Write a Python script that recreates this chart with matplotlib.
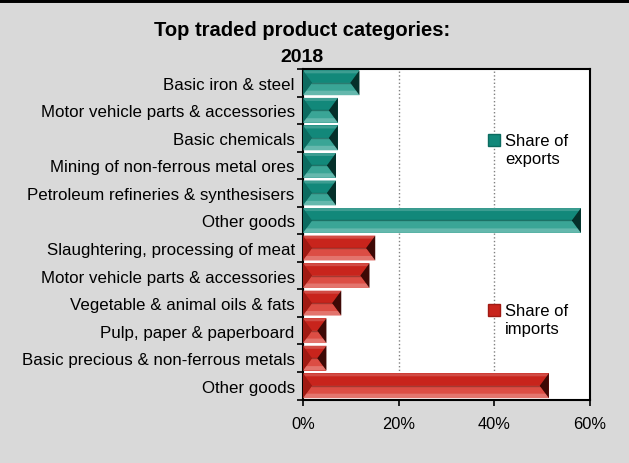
import numpy as np
import matplotlib.pyplot as plt
from matplotlib.patches import Polygon
from matplotlib.lines import Line2D

plt.rcParams['font.family'] = ['Liberation Sans', 'DejaVu Sans']

export_labels = ['Basic iron & steel', 'Motor vehicle parts & accessories', 'Basic chemicals',
                 'Mining of non-ferrous metal ores', 'Petroleum refineries & synthesisers',
                 'Other goods']
export_share = [11.8, 7.3, 7.3, 6.9, 6.9, 58.1]

import_labels = ['Slaughtering, processing of meat', 'Motor vehicle parts & accessories',
                 'Vegetable & animal oils & fats', 'Pulp, paper & paperboard',
                 'Basic precious & non-ferrous metals', 'Other goods']
import_share = [15.1, 13.9, 8.0, 4.9, 4.9, 51.4]

x_ticks = [0, 20, 40, 60]

# facet colours: top, bottom, left, right
teal = ['#12887a', '#3aa596', '#0c6b60', '#05302a']
red = ['#c8241c', '#dc4d44', '#a01a13', '#3e0906']


def bevel(ax, bars, cols, d=1.9):
    for b in bars:
        x0, y0 = b.get_x(), b.get_y()
        w, h = b.get_width(), b.get_height()
        x1, y1 = x0 + w, y0 + h
        ym = y0 + h / 2
        dd = min(d, w / 2)
        facets = [
            [(x0, y0), (x1, y0), (x1 - dd, ym), (x0 + dd, ym)],
            [(x0, y1), (x1, y1), (x1 - dd, ym), (x0 + dd, ym)],
            [(x0, y0), (x0 + dd, ym), (x0, y1)],
            [(x1, y0), (x1 - dd, ym), (x1, y1)],
        ]
        for pts, c in zip(facets, cols):
            ax.add_patch(Polygon(pts, closed=True, facecolor=c, edgecolor='none', zorder=3))
        # highlight strips
        ax.add_patch(Polygon([(x0, y0), (x1, y0), (x1 - dd * 0.25, y0 + h * 0.12),
                              (x0 + dd * 0.25, y0 + h * 0.12)],
                             facecolor='white', alpha=0.18, edgecolor='none', zorder=4))
        ax.add_patch(Polygon([(x0, y1), (x1, y1), (x1 - dd * 0.35, y1 - h * 0.18),
                              (x0 + dd * 0.35, y1 - h * 0.18)],
                             facecolor='white', alpha=0.22, edgecolor='none', zorder=4))
        ax.plot([x0 + dd, x1 - dd], [ym, ym], color='black', alpha=0.25, lw=1, zorder=4)


fig = plt.figure(figsize=(6.29, 4.64), dpi=100)
fig.patch.set_facecolor('#d9d9d9')
ax = fig.add_axes([303 / 629, 63.5 / 464, 287 / 629, 330.5 / 464])

labels = export_labels + import_labels
n = len(labels)
ypos = np.arange(n)
ex_bars = ax.barh(ypos[:6], export_share, height=0.9, color=teal[0], zorder=2)
im_bars = ax.barh(ypos[6:], import_share, height=0.9, color=red[0], zorder=2)
bevel(ax, ex_bars, teal)
bevel(ax, im_bars, red)

ax.set_xlim(0, 60)
ax.set_ylim(n - 0.5, -0.5)
ax.set_xticks(x_ticks)
ax.set_xticklabels([f'{t}%' for t in x_ticks])
ax.set_yticks(np.arange(n + 1) - 0.5)
ax.set_yticklabels([])
ax.set_yticks(ypos, minor=True)
ax.set_yticklabels(labels, minor=True)
ax.tick_params(axis='y', which='minor', length=0, pad=6, labelsize=12.2)
ax.tick_params(axis='y', which='major', length=4, width=1.2, direction='out')
ax.tick_params(axis='x', length=4, width=1.2, direction='out', pad=8, labelsize=11.8)
for s in ax.spines.values():
    s.set_linewidth(1.5)
ax.xaxis.grid(True, linestyle=':', color='#808080', linewidth=1)
ax.set_axisbelow(True)

# legend entries
for ylab, cols, txt in [(0.785, teal, 'Share of\nexports'), (0.27, red, 'Share of\nimports')]:
    ax.plot([0.665], [ylab], marker='s', markersize=8, color=cols[0], markeredgecolor=cols[2],
            transform=ax.transAxes, clip_on=False, zorder=5)
    ax.text(0.705, ylab + 0.022, txt, transform=ax.transAxes, fontsize=12,
            va='top', ha='left', linespacing=1.25)

fig.text(302 / 629, 1 - 30 / 464, 'Top traded product categories:', ha='center', va='center',
         fontsize=14.5, fontweight='bold')
fig.text(302 / 629, 1 - 57 / 464, '2018', ha='center', va='center',
         fontsize=14, fontweight='bold')
fig.add_artist(Line2D([0, 1], [1, 1], transform=fig.transFigure, color='black', linewidth=5))

fig.savefig('out.png', dpi=100, facecolor=fig.get_facecolor())
